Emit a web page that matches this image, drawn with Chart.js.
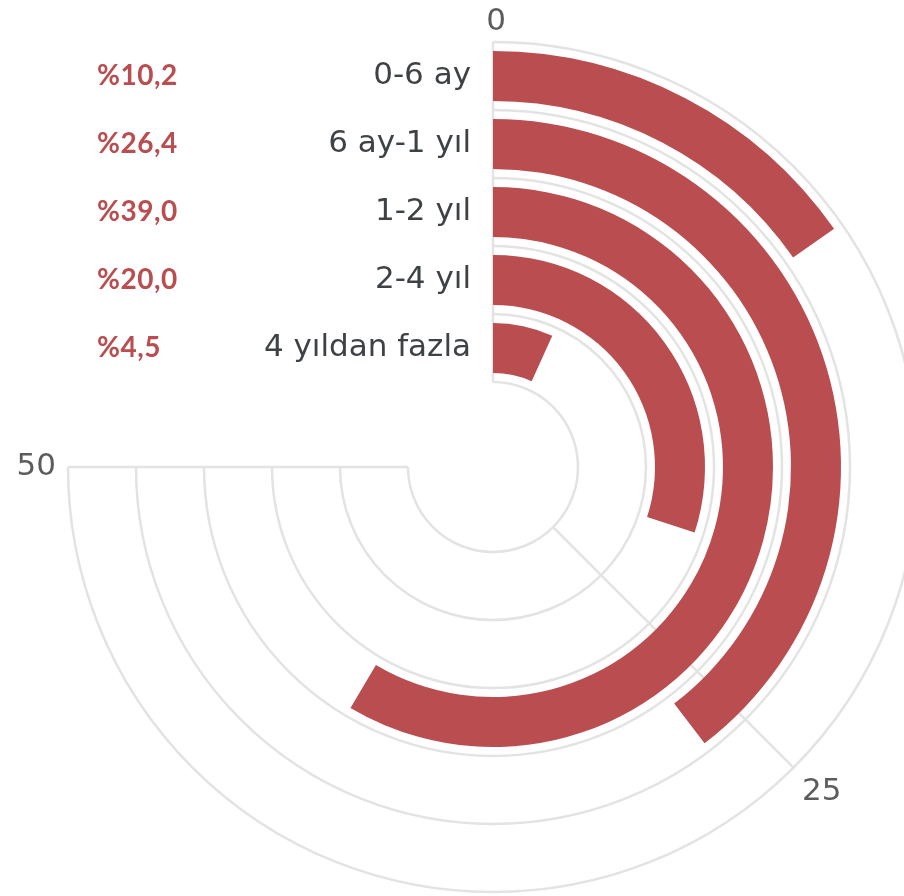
<!DOCTYPE html>
<html>
<head>
<meta charset="utf-8">
<script src="https://cdn.jsdelivr.net/npm/chart.js@4"></script>
<style>
    html, body { margin: 0; padding: 0; background: #fff; overflow: hidden; }
    #wrap { position: relative; width: 920px; height: 896px; }
</style>
</head>
<body>
<div id="wrap"><canvas id="trackChart"></canvas></div>
<script>
const categories = ['0-6 ay', '6 ay-1 yıl', '1-2 yıl', '2-4 yıl', '4 yıldan fazla'];
const values = [10.2, 26.4, 39.0, 20.0, 4.5];
const pctLabels = ['%10,2', '%26,4', '%39,0', '%20,0', '%4,5'];
const axisTicks = [0, 25, 50];
const axisMax = 50;          // value reached at 270 degrees
const axisSweep = 270;

const BAR_COLOR = '#b94d50';
const GRID_COLOR = '#e3e3e3';
const FONT = '"DejaVu Sans", sans-serif';

// the doughnut needs a full turn, so the rest of each ring is an invisible slice
const fullTurn = axisMax * 360 / axisSweep;

const datasets = [];
categories.forEach((cat, i) => {
    const gap = { data: [1], backgroundColor: ['rgba(0,0,0,0)'], borderWidth: 0, weight: 9 };
    datasets.push(gap);
    datasets.push({
        label: cat,
        data: [values[i], fullTurn - values[i]],
        backgroundColor: [BAR_COLOR, 'rgba(0,0,0,0)'],
        borderWidth: 0,
        weight: 50
    });
    datasets.push(Object.assign({}, gap));
});

const angleFor = v => -Math.PI / 2 + (v / axisMax) * (axisSweep * Math.PI / 180);

const radialGrid = {
    id: 'radialGrid',
    beforeDatasetsDraw(chart) {
        const ctx = chart.ctx;
        const first = chart.getDatasetMeta(0).data[0];
        const last = chart.getDatasetMeta(datasets.length - 1).data[0];
        const cx = first.x, cy = first.y;
        const outer = first.outerRadius, inner = last.innerRadius;
        const band = (outer - inner) / categories.length;
        const start = angleFor(0), end = angleFor(axisMax);

        ctx.save();
        ctx.strokeStyle = GRID_COLOR;
        ctx.lineWidth = 2.5;
        for (let k = 0; k <= categories.length; k++) {
            ctx.beginPath();
            ctx.arc(cx, cy, inner + k * band, start, end, false);
            ctx.stroke();
        }
        axisTicks.forEach(t => {
            const a = angleFor(t);
            ctx.beginPath();
            ctx.moveTo(cx + inner * Math.cos(a), cy + inner * Math.sin(a));
            ctx.lineTo(cx + outer * Math.cos(a), cy + outer * Math.sin(a));
            ctx.stroke();
        });

        // tick labels outside the outer ring
        ctx.fillStyle = '#5c5c5c';
        ctx.font = '31px ' + FONT;
        axisTicks.forEach(t => {
            const a = angleFor(t);
            const dx = Math.cos(a), dy = Math.sin(a);
            const r = outer + 12;
            ctx.textAlign = Math.abs(dx) < 0.1 ? 'center' : (dx > 0 ? 'left' : 'right');
            ctx.textBaseline = Math.abs(dy) < 0.1 ? 'middle' : (dy > 0 ? 'top' : 'alphabetic');
            ctx.fillText(String(t), cx + 3 * Math.abs(dy) * (dy < 0 ? 1 : 0) + r * dx, cy + r * dy);
        });

        // category names and shares, at the start of each bar
        categories.forEach((cat, i) => {
            const y = cy - (outer - band * (i + 0.5));
            ctx.textBaseline = 'middle';
            ctx.textAlign = 'right';
            ctx.fillStyle = '#3f4245';
            ctx.font = '31px ' + FONT;
            ctx.fillText(cat, cx - 22, y);
            ctx.textAlign = 'left';
            ctx.fillStyle = BAR_COLOR;
            ctx.font = 'bold 28px Lato, sans-serif';
            ctx.letterSpacing = '0.5px';
            ctx.fillText(pctLabels[i], 97, y);
            ctx.letterSpacing = '0px';
        });
        ctx.restore();
    }
};

new Chart(document.getElementById('trackChart'), {
    type: 'doughnut',
    data: { labels: ['pay', 'rest'], datasets: datasets },
    options: {
        responsive: true,
        maintainAspectRatio: false,
        animation: false,
        events: [],
        cutout: 85,
        layout: { padding: { left: 68, top: 42, right: 2, bottom: 4 } },
        plugins: { legend: { display: false }, tooltip: { enabled: false } }
    },
    plugins: [radialGrid]
});
</script>
</body>
</html>
